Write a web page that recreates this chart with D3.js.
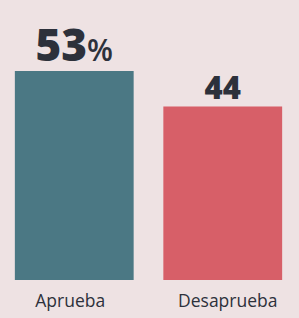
<!DOCTYPE html>
<html>
<head>
<meta charset="utf-8">
<script src="https://cdn.jsdelivr.net/npm/d3@7"></script>
<style>
  html, body { margin: 0; padding: 0; background: #eee2e3; }
  svg { display: block; }
</style>
</head>
<body>
<svg id="chart" width="299" height="318"></svg>
<script>
// data
const categories = ['Aprueba', 'Desaprueba'];
const values = [53, 44];
const valueLabels = ['53', '44'];
const valueSuffix = ['%', ''];
const colors = ['#4b7884', '#d75f68'];

const width = 299, height = 318;
const svg = d3.select('#chart');

svg.append('rect').attr('width', width).attr('height', height).attr('fill', '#eee2e3');

const x = d3.scaleBand()
  .domain(categories)
  .range([0, 297])
  .paddingInner(0.2)
  .paddingOuter(0.1);

const y = d3.scaleLinear()
  .domain([0, 53])
  .range([280, 71]);

const data = categories.map((c, i) => ({ cat: c, v: values[i], label: valueLabels[i], suffix: valueSuffix[i], color: colors[i] }));

// bars
svg.selectAll('rect.bar')
  .data(data)
  .enter()
  .append('rect')
  .attr('class', 'bar')
  .attr('x', d => x(d.cat))
  .attr('y', d => y(d.v))
  .attr('width', x.bandwidth())
  .attr('height', d => y(0) - y(d.v))
  .attr('fill', d => d.color);

// value labels (first one bigger, like the print)
const vl = svg.selectAll('text.val')
  .data(data)
  .enter()
  .append('text')
  .attr('class', 'val')
  .attr('x', d => x(d.cat) + x.bandwidth() / 2)
  .attr('y', (d, i) => y(d.v) - (i === 0 ? 10 : 7))
  .attr('text-anchor', 'middle')
  .attr('font-family', '"Open Sans", sans-serif')
  .attr('font-weight', 800)
  .attr('fill', '#2d313b')
  .attr('font-size', (d, i) => i === 0 ? 44 : 31);

vl.append('tspan').text(d => d.label);
vl.append('tspan')
  .attr('font-weight', 600)
  .attr('font-size', 30)
  .text(d => d.suffix);

// category axis
const axis = svg.append('g')
  .attr('transform', 'translate(0,280)')
  .call(d3.axisBottom(x).tickSize(0).tickPadding(15));
axis.select('.domain').remove();
axis.selectAll('text')
  .attr('font-family', '"Open Sans", sans-serif')
  .attr('font-size', 17.5)
  .attr('fill', '#2d313b')
  .attr('dx', (d, i) => i === 0 ? -4 : 5);
</script>
</body>
</html>
